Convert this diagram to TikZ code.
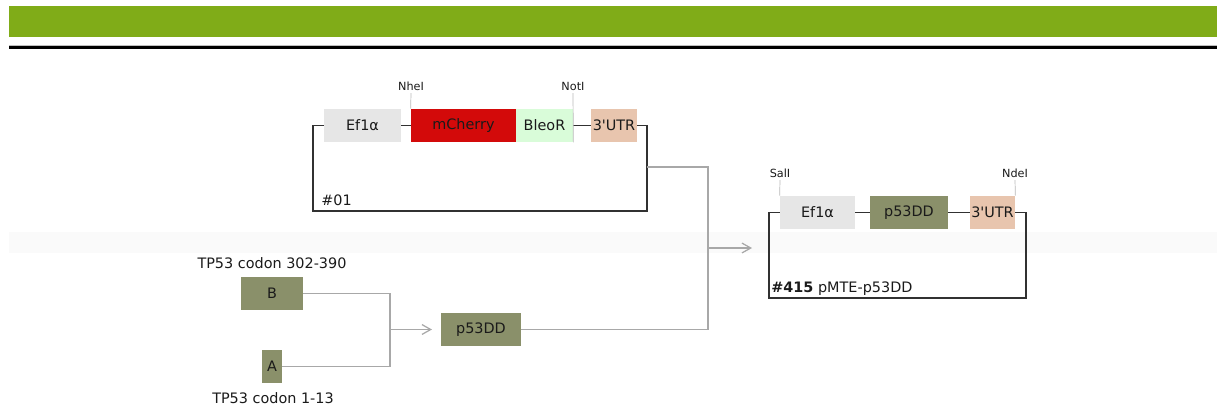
\documentclass[tikz,border=0pt]{standalone}
\usepackage{fontspec}
\setmainfont{DejaVu Sans}
\usetikzlibrary{arrows.meta}
\definecolor{barGreen}{HTML}{80AC18}
\definecolor{olive}{HTML}{8A906A}
\definecolor{cherry}{HTML}{D30A0A}
\definecolor{bleo}{HTML}{D9FCD9}
\definecolor{utr}{HTML}{E8C5AE}
\definecolor{efgray}{HTML}{E6E6E6}
\definecolor{congray}{HTML}{A8A8A8}
\definecolor{band}{HTML}{FAFAFA}
\definecolor{txt}{HTML}{1A1A1A}
\begin{document}
\begin{tikzpicture}[x=0.02cm,y=-0.02cm,
  gbox/.style={inner sep=0pt, minimum height=33*0.02cm, text=txt, font=\fontsize{8.2}{9.8}\selectfont},
  w/.style={minimum width=#1*0.02cm},
  bb/.style={draw=txt!90, line width=0.8pt},
  con/.style={draw=congray, line width=0.7pt},
  arr/.style={-{Straight Barb[length=5pt,width=5.6pt]}},
  site/.style={inner sep=1pt, font=\fontsize{6.4}{7.5}\selectfont, text=txt},
  tick/.style={draw=congray!80, line width=0.4pt},
  lbl/.style={inner sep=0pt, font=\fontsize{8.2}{9.8}\selectfont, text=txt}]
\useasboundingbox (0,0) rectangle (1217,407);
% header
\fill[barGreen] (9,6) rectangle (1217,37);
\fill[black!25] (9,44.5) rectangle (1217,46);
\fill[black] (9,46) rectangle (1217,49);
\fill[band] (9,232) rectangle (1217,253);

% plasmid #01
\node[gbox, w=77, fill=efgray] (ef1) at (362.5,125.5) {Ef1α};
\node[gbox, w=105, fill=cherry] (mch) at (463.5,125.5) {mCherry};
\node[gbox, w=57, fill=bleo] (bleo) at (544.5,125.5) {BleoR};
\node[gbox, w=46, fill=utr] (utr1) at (614,125.5) {3\textquotesingle UTR};
\coordinate (tl) at (313,125.5);
\coordinate (bl) at (313,211);
\coordinate (br) at (647,211);
\coordinate (tr) at (647,125.5);
\draw[bb] (ef1.west) -- (tl) -- (bl) -- (br) -- (tr) -- (utr1.east);
\draw[bb] (ef1.east) -- (mch.west);
\draw[bb] (bleo.east) -- (utr1.west);
\node[site, anchor=south] (nhe) at (411,93) {NheI};
\node[site, anchor=south] (not) at (573,93) {NotI};
\draw[tick] (nhe.south) -- (mch.north west);
\draw[tick] (not.south) -- (bleo.south east);
\node[lbl, anchor=west] (n01) at (321,200) {\#01};

% plasmid #415
\node[gbox, w=75, fill=efgray] (ef2) at (817.5,212.5) {Ef1α};
\node[gbox, w=78, fill=olive] (p53r) at (909,212.5) {p53DD};
\node[gbox, w=45, fill=utr] (utr2) at (992.5,212.5) {3\textquotesingle UTR};
\coordinate (tl2) at (769,212.5);
\coordinate (bl2) at (769,298);
\coordinate (br2) at (1026,298);
\coordinate (tr2) at (1026,212.5);
\draw[bb] (ef2.west) -- (tl2) -- (bl2) -- (br2) -- (tr2) -- (utr2.east);
\draw[bb] (ef2.east) -- (p53r.west);
\draw[bb] (p53r.east) -- (utr2.west);
\node[site, anchor=south] (sal) at (780,180) {SalI};
\node[site, anchor=south] (nde) at (1015,180) {NdeI};
\draw[tick] (sal.south) -- (ef2.north west);
\draw[tick] (nde.south) -- (utr2.north east);
\node[lbl, anchor=west] (n415) at (771,289) {\textbf{\#415} pMTE-p53DD};

% fragments
\node[lbl] (tB) at (272,263) {TP53 codon 302-390};
\node[gbox, w=62, fill=olive] (B) at (272,293.5) {B};
\node[gbox, w=20, fill=olive] (A) at (272,366.5) {A};
\node[lbl] (tA) at (273,398) {TP53 codon 1-13};
\node[gbox, w=80, fill=olive] (p53) at (481,329.5) {p53DD};

% connectors
\coordinate (jb) at (390,293.5);
\coordinate (ja) at (390,366.5);
\coordinate (jm) at (390,329.5);
\coordinate (am) at (432,329.5);
\draw[con] (B.east) -- (jb) -- (ja) -- (A.east);
\draw[con, arr] (jm) -- (am);
\coordinate (o1) at (647,167);
\coordinate (j1) at (708,167);
\coordinate (j2) at (708,329.5);
\coordinate (j3) at (708,248);
\coordinate (a3) at (752,248);
\draw[con] (o1) -- (j1) -- (j2) -- (p53.east);
\draw[con, arr] (j3) -- (a3);
\end{tikzpicture}
\end{document}
